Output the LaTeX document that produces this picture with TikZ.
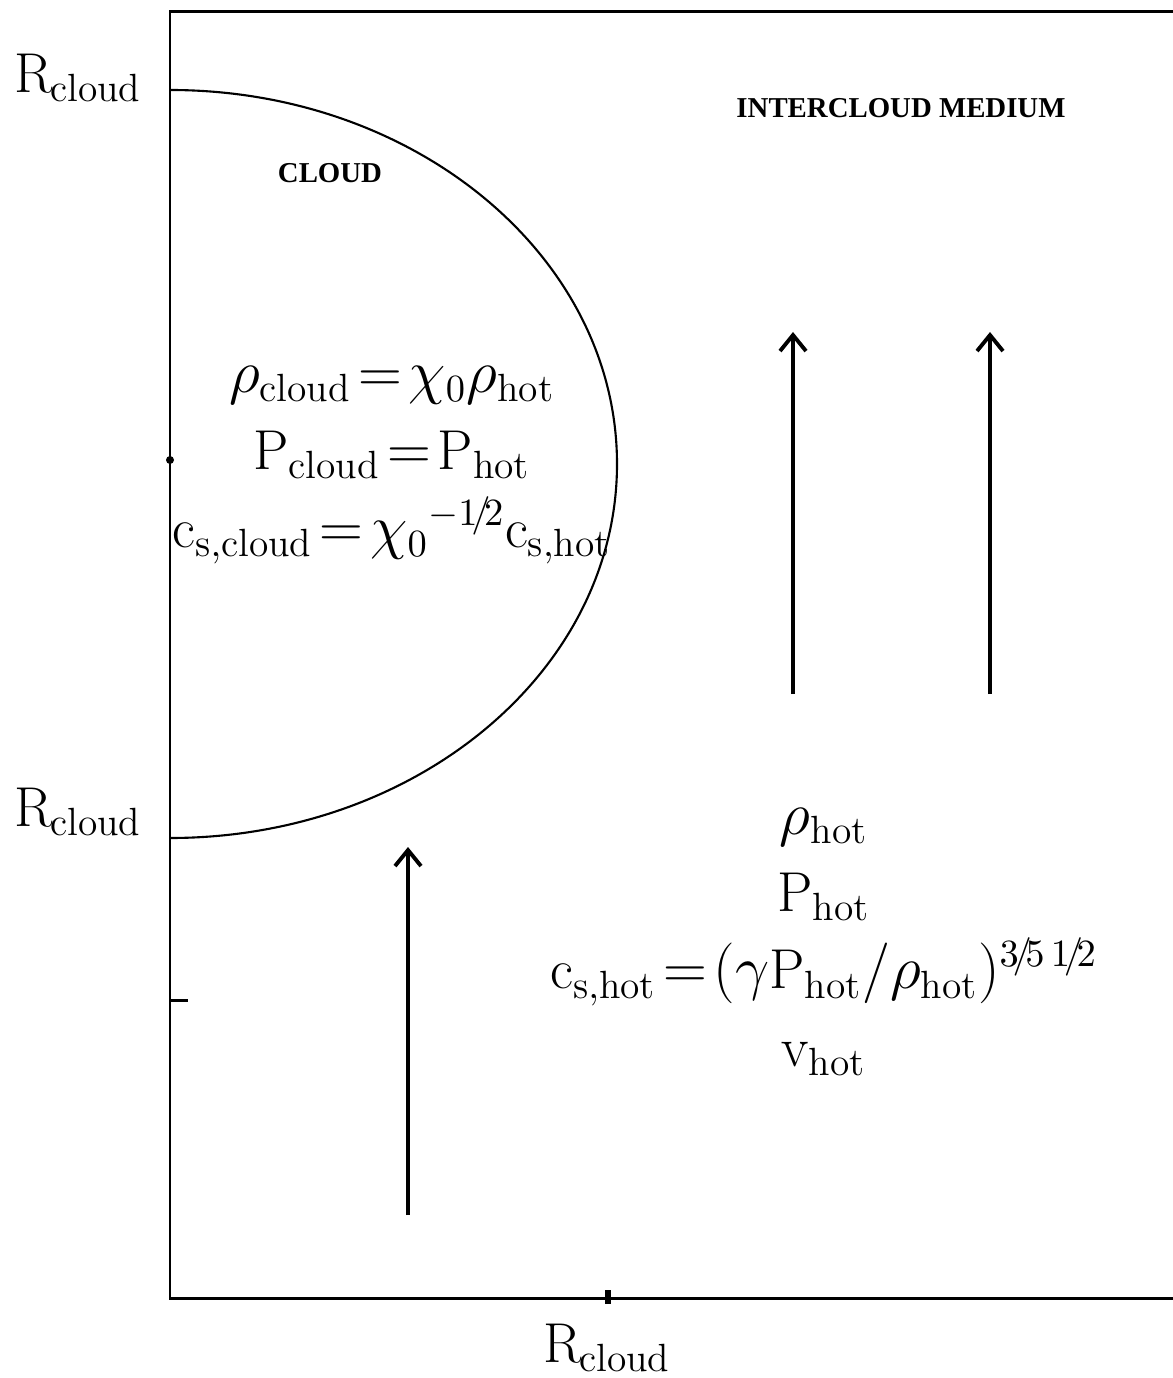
\documentclass[tikz,border=0pt]{standalone}
\usepackage{amsmath}
\usepackage{fontspec}
\usetikzlibrary{arrows.meta}
\newfontfamily\regionfont{Liberation Serif}

\newcommand{\sub}[1]{_{\mathrm{#1}}}
\newcommand{\hfr}[2]{{\scriptstyle #1\!/\!#2}}

\begin{document}
\begin{tikzpicture}[
  x=1cm, y=1cm,
  frame/.style={line width=0.85pt},
  edge/.style={line width=0.6pt},
  flow/.style={line width=1.1pt, -{Straight Barb[length=1.6mm, width=2.6mm, line width=1.1pt]}},
  eqn/.style={font=\fontsize{16}{22}\selectfont, align=center, inner sep=0pt},
  axlbl/.style={font=\fontsize{16}{18}\selectfont, inner sep=0pt},
  region/.style={font=\regionfont\fontsize{8.2}{9}\selectfont\bfseries, inner sep=0pt}
]
\useasboundingbox (0,0) rectangle (11.73,-13.78);

% frame, open on the right
\draw[frame] (11.73,-0.12) -- (1.70,-0.12) -- (1.70,-12.98) -- (11.73,-12.98);
\draw[frame] (1.70,-10.00) -- (1.88,-10.00);
\draw[line width=1.6pt] (6.08,-12.90) -- (6.08,-13.04);
\fill (1.70,-4.60) circle (0.04);

% cloud boundary
\draw[edge] (1.70,-0.90) arc[start angle=90, end angle=-90, x radius=4.47, y radius=3.74];

% axis labels
\node[axlbl] (rtop) at (0.78,-0.78) {R\textsubscript{\kern-0.05em cloud}};
\node[axlbl] (rmid) at (0.78,-8.12) {R\textsubscript{\kern-0.05em cloud}};
\node[axlbl] (rbot) at (6.07,-13.48) {R\textsubscript{\kern-0.05em cloud}};

% region names
\node[region] (cloud) at (3.30,-1.73) {CLOUD};
\node[region] (icm) at (9.01,-1.08) {INTERCLOUD MEDIUM};

% cloud state
\node[eqn] (cloudeq) at (3.92,-4.65) {%
  $\rho\sub{cloud}\!=\!\chi_0\rho\sub{hot}$\\
  $\mathrm{P}\sub{cloud}\!=\!\mathrm{P}\sub{hot}$\\
  $\mathrm{c}\sub{s,cloud}\!=\!\chi_0{}^{-\hfr12}\mathrm{c}\sub{s,hot}$};

% hot flow state
\node[eqn] (hoteq) at (8.24,-9.42) {%
  $\rho\sub{hot}$\\
  $\mathrm{P}\sub{hot}$\\
  $\mathrm{c}\sub{s,hot}\!=\!(\gamma\mathrm{P}\sub{hot}/\rho\sub{hot})^{\hfr35\,\hfr12}$\\
  $\mathrm{v}\sub{hot}$};

% flow arrows
\coordinate (f1a) at (7.93,-6.94);
\coordinate (f1b) at (7.93,-3.32);
\coordinate (f2a) at (9.90,-6.94);
\coordinate (f2b) at (9.90,-3.32);
\coordinate (f3a) at (4.08,-12.15);
\coordinate (f3b) at (4.08,-8.47);
\draw[flow] (f1a) -- (f1b);
\draw[flow] (f2a) -- (f2b);
\draw[flow] (f3a) -- (f3b);

\end{tikzpicture}
\end{document}
